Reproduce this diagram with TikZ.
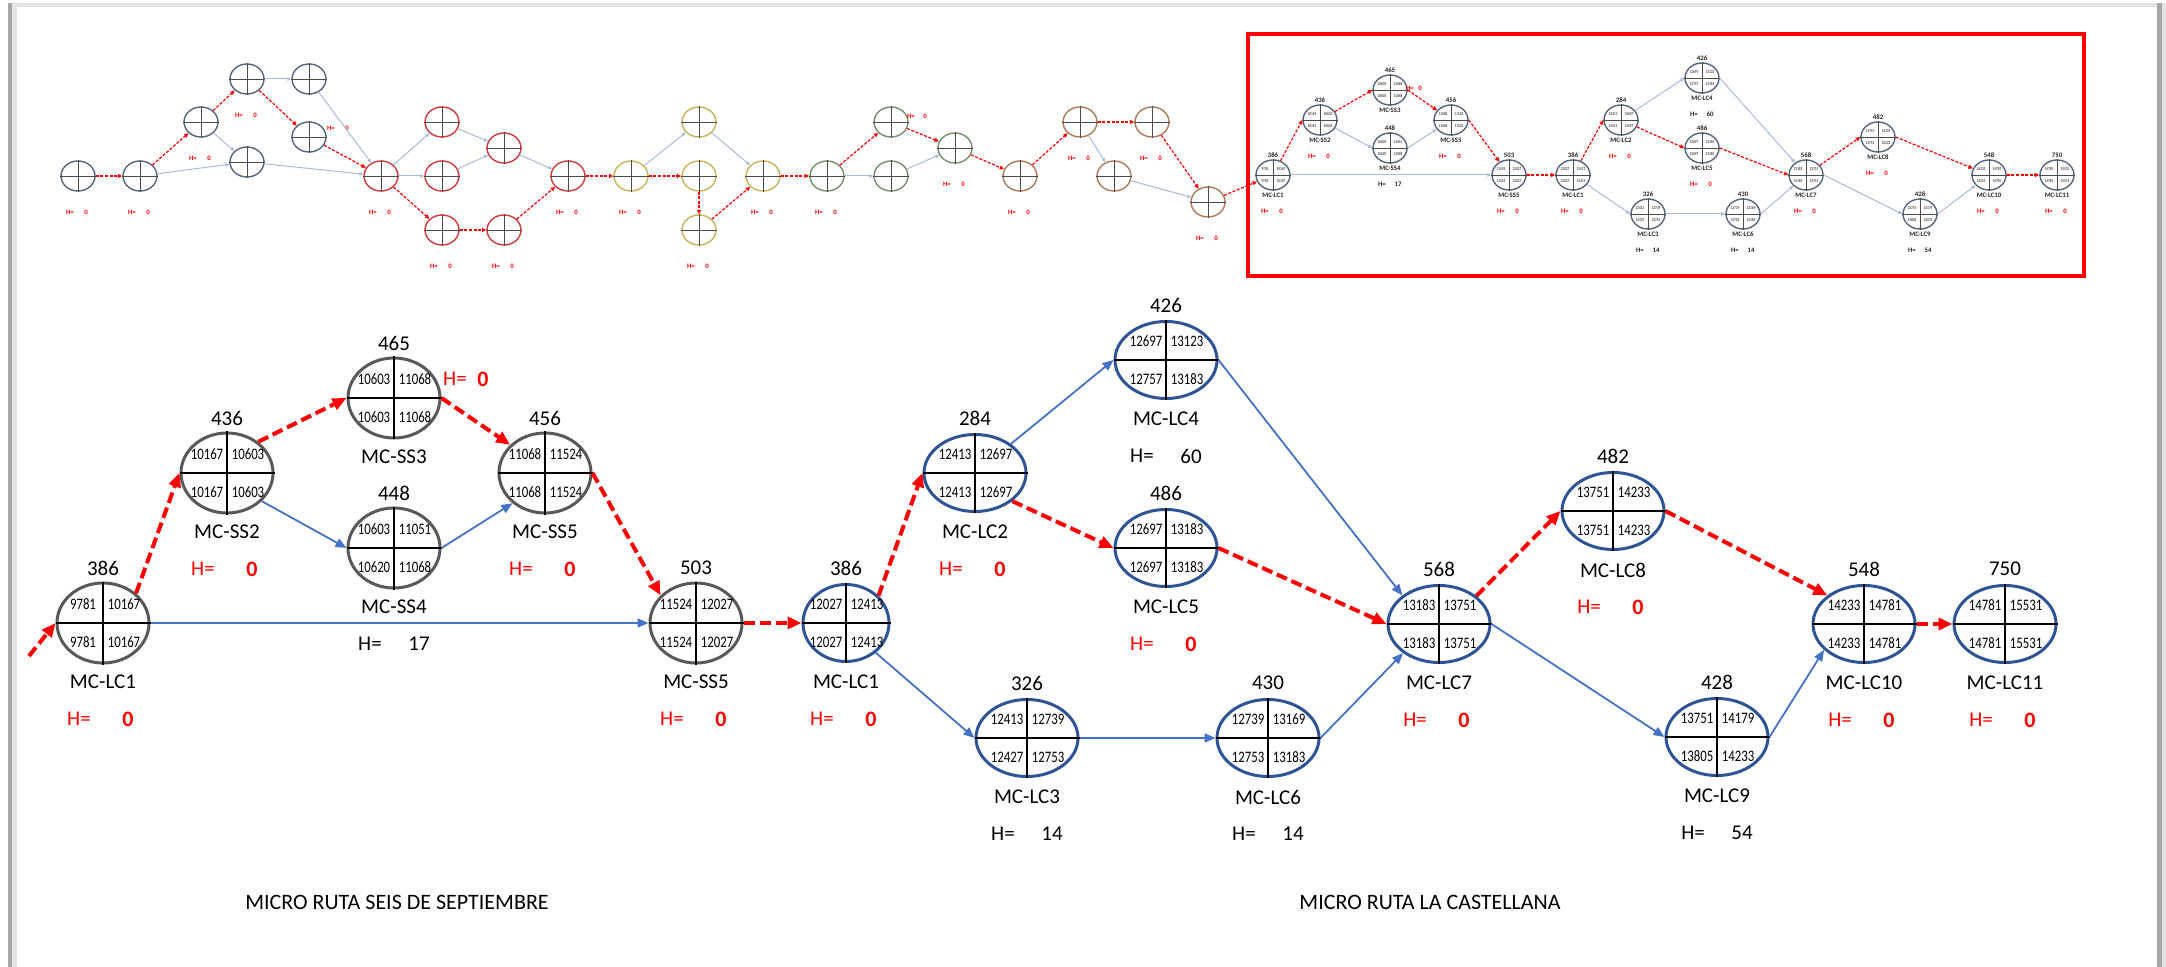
\documentclass[tikz,border=0pt]{standalone}
\usepackage{fontspec}
\setmainfont{Carlito}
\newfontfamily\quadfont[FakeStretch=0.8]{Carlito}
\usetikzlibrary{shapes.geometric,arrows.meta,calc}

\definecolor{nodegray}{HTML}{595959}
\definecolor{nodeblue}{HTML}{2F5496}
\definecolor{linkblue}{HTML}{4472C4}
\definecolor{critred}{HTML}{FF0000}
\definecolor{framedark}{HTML}{A6A6A6}
\definecolor{framelight}{HTML}{E4E4E4}
\definecolor{thinblue}{HTML}{A9BCDD}
\definecolor{tslate}{HTML}{56657F}
\definecolor{tred}{HTML}{D23A3A}
\definecolor{tyellow}{HTML}{C8B457}
\definecolor{tgreen}{HTML}{72906A}
\definecolor{tbrown}{HTML}{B07A5A}

\tikzset{
  graynode/.style={ellipse, draw=nodegray, line width=1.5pt, minimum width=46pt, minimum height=40pt, inner sep=0pt},
  bluenode/.style={ellipse, draw=nodeblue, line width=1.5pt, minimum width=51pt, minimum height=38.5pt, inner sep=0pt},
  slimblue/.style={bluenode, minimum width=43pt},
  crossline/.style={black, line width=0.8pt},
  quadtxt/.style={inner sep=0pt, font=\quadfont\fontsize{8}{9}\selectfont},
  numtxt/.style={inner sep=0pt, font=\fontsize{10.5}{12}\selectfont},
  nametxt/.style={inner sep=0pt, font=\fontsize{10.5}{12}\selectfont},
  hkeyred/.style={inner sep=0pt, text=critred, font=\fontsize{10.5}{12}\selectfont},
  hvalred/.style={inner sep=0pt, text=critred, font=\fontsize{11}{12}\selectfont\bfseries},
  hkeyblk/.style={inner sep=0pt, font=\fontsize{10.5}{12}\selectfont},
  hvalblk/.style={inner sep=0pt, font=\fontsize{10.5}{12}\selectfont},
  captxt/.style={inner sep=0pt, font=\fontsize{11}{13}\selectfont},
  critlink/.style={draw=critred, line width=2pt, dash pattern=on 5.5pt off 2.5pt,
    -{Triangle[length=7pt,width=6pt]}},
  normlink/.style={draw=linkblue, line width=0.9pt, -{Triangle[length=5.5pt,width=4.5pt]}},
  % miniature network
  mininode/.style={ellipse, line width=0.7pt, minimum width=17pt, minimum height=15pt, inner sep=0pt},
  minicross/.style={black!70, line width=0.4pt},
  miniquad/.style={inner sep=0pt, text=black!70, font=\quadfont\bfseries\fontsize{2.2}{2.6}\selectfont},
  minitxt/.style={inner sep=0pt, text=black!85, font=\bfseries\fontsize{3.4}{4}\selectfont},
  minired/.style={inner sep=0pt, text=critred, font=\bfseries\fontsize{3.4}{4}\selectfont},
  minicrit/.style={draw=critred, line width=0.6pt, dash pattern=on 1.5pt off 0.8pt,
    -{Triangle[length=2.2pt,width=2pt]}},
  mininorm/.style={draw=thinblue, line width=0.5pt, -{Triangle[length=2pt,width=1.8pt]}},
}

% activity node: name, position, style, four quadrant values, number above
\newcommand{\pertnode}[8]{%
  \node[#3] (#1) at (#2) {};
  \draw[crossline] (#1.north) -- (#1.south);
  \draw[crossline] (#1.west) -- (#1.east);
  \node[quadtxt] (#1-tl) at ([shift={(-20,-19)}]#1.center) {#4};
  \node[quadtxt] (#1-tr) at ([shift={(21,-19)}]#1.center) {#5};
  \node[quadtxt] (#1-bl) at ([shift={(-20,19)}]#1.center) {#6};
  \node[quadtxt] (#1-br) at ([shift={(21,19)}]#1.center) {#7};
  \node[numtxt] (#1-num) at ([shift={(0,-55)}]#1.center) {#8};
}
\newcommand{\pertname}[2]{\node[nametxt] (#1-lab) at ([shift={(0,59)}]#1.center) {#2};}
\newcommand{\hcrit}[1]{%
  \node[hkeyred] (#1-hk) at ([shift={(-24,96)}]#1.center) {H=};
  \node[hvalred] (#1-hv) at ([shift={(25,96)}]#1.center) {0};}
\newcommand{\hslack}[2]{%
  \node[hkeyblk] (#1-hk) at ([shift={(-24,96)}]#1.center) {H=};
  \node[hvalblk] (#1-hv) at ([shift={(25,96)}]#1.center) {#2};}

% miniature node: name, position, colour, four quadrant values, number above
\newcommand{\minipert}[8]{%
  \node[mininode, draw=#3] (#1) at (#2) {};
  \draw[minicross] (#1.north) -- (#1.south);
  \draw[minicross] (#1.west) -- (#1.east);
  \node[miniquad] (#1-tl) at ([shift={(-8,-6)}]#1.center) {#4};
  \node[miniquad] (#1-tr) at ([shift={(8,-6)}]#1.center) {#5};
  \node[miniquad] (#1-bl) at ([shift={(-8,6)}]#1.center) {#6};
  \node[miniquad] (#1-br) at ([shift={(8,6)}]#1.center) {#7};
  \node[minitxt] (#1-num) at ([shift={(0,-20)}]#1.center) {#8};
}
\newcommand{\mininame}[2]{\node[minitxt] (#1-lab) at ([shift={(0,20)}]#1.center) {#2};}
\newcommand{\minihcrit}[1]{%
  \node[minired] (#1-hk) at ([shift={(-8,36)}]#1.center) {H=};
  \node[minired] (#1-hv) at ([shift={(8,36)}]#1.center) {0};}
\newcommand{\minihslack}[2]{%
  \node[minitxt] (#1-hk) at ([shift={(-8,36)}]#1.center) {H=};
  \node[minitxt] (#1-hv) at ([shift={(8,36)}]#1.center) {#2};}

\begin{document}
\begin{tikzpicture}[x=0.5pt,y=-0.5pt]
\useasboundingbox (0,0) rectangle (2166,967);
\fill[white] (0,0) rectangle (2166,967);

% page edges
\fill[framelight] (8,3) rectangle (2157,7);
\fill[framedark] (8,3) rectangle (12,967);
\fill[framelight] (12,7) rectangle (17,967);
\fill[framedark] (2157,3) rectangle (2162,967);
\fill[framelight] (2162,3) rectangle (2166,967);

% ---------------- miniature of the whole network ----------------
\minipert{t1}{78,176}{tslate}{}{}{}{}{}
\minipert{t2}{140,176}{tslate}{}{}{}{}{}
\minipert{t3}{201,122}{tslate}{}{}{}{}{}
\minipert{t4}{247,79}{tslate}{}{}{}{}{}
\minipert{t5}{309,79}{tslate}{}{}{}{}{}
\minipert{t6}{309,137}{tslate}{}{}{}{}{}
\minipert{t7}{247,162}{tslate}{}{}{}{}{}
\minipert{t8}{381,176}{tred}{}{}{}{}{}
\minipert{t9}{442,122}{tred}{}{}{}{}{}
\minipert{t10}{504,148}{tred}{}{}{}{}{}
\minipert{t11}{442,176}{tred}{}{}{}{}{}
\minipert{t12}{442,230}{tred}{}{}{}{}{}
\minipert{t13}{504,230}{tred}{}{}{}{}{}
\minipert{t14}{568,176}{tred}{}{}{}{}{}
\minipert{t15}{631,176}{tyellow}{}{}{}{}{}
\minipert{t16}{699,122}{tyellow}{}{}{}{}{}
\minipert{t17}{699,176}{tyellow}{}{}{}{}{}
\minipert{t18}{699,230}{tyellow}{}{}{}{}{}
\minipert{t19}{763,176}{tyellow}{}{}{}{}{}
\minipert{t20}{827,176}{tgreen}{}{}{}{}{}
\minipert{t21}{891,122}{tgreen}{}{}{}{}{}
\minipert{t22}{891,176}{tgreen}{}{}{}{}{}
\minipert{t23}{955,148}{tgreen}{}{}{}{}{}
\minipert{t24}{1020,176}{tbrown}{}{}{}{}{}
\minipert{t25}{1080,122}{tbrown}{}{}{}{}{}
\minipert{t26}{1152,122}{tbrown}{}{}{}{}{}
\minipert{t27}{1114,176}{tbrown}{}{}{}{}{}
\minipert{t28}{1208,202}{tbrown}{}{}{}{}{}

% slack marks of the critical activities
\minihcrit{t1}\minihcrit{t2}\minihcrit{t3}\minihcrit{t4}
\node[minired] (t6-hk) at (331,128) {H=};
\node[minired] (t6-hv) at (347,128) {0};
\minihcrit{t8}\minihcrit{t12}\minihcrit{t13}\minihcrit{t14}
\minihcrit{t15}\minihcrit{t18}\minihcrit{t19}\minihcrit{t20}
\node[minired] (t21-hk) at (911,116) {H=};
\node[minired] (t21-hv) at (925,116) {0};
\minihcrit{t23}\minihcrit{t24}\minihcrit{t25}\minihcrit{t26}\minihcrit{t28}

\minipert{r1}{1273,175}{tslate}{9781}{10167}{9781}{10167}{386}
\minipert{r2}{1320,120}{tslate}{10167}{10603}{10167}{10603}{436}
\minipert{r3}{1390,90}{tslate}{10603}{11068}{10603}{11068}{465}
\minipert{r4}{1390,148}{tslate}{10603}{11051}{10620}{11068}{448}
\minipert{r5}{1451,120}{tslate}{11068}{11524}{11068}{11524}{456}
\minipert{r6}{1509,175}{tslate}{11524}{12027}{11524}{12027}{503}
\minipert{r7}{1573,175}{tslate}{12027}{12413}{12027}{12413}{386}
\minipert{r8}{1621,120}{tslate}{12413}{12697}{12413}{12697}{284}
\minipert{r9}{1702,78}{tslate}{12697}{13123}{12757}{13183}{426}
\minipert{r10}{1702,148}{tslate}{12697}{13183}{12697}{13183}{486}
\minipert{r11}{1648,214}{tslate}{12413}{12739}{12427}{12753}{326}
\minipert{r12}{1743,214}{tslate}{12739}{13169}{12753}{13183}{430}
\minipert{r13}{1806,175}{tslate}{13183}{13751}{13183}{13751}{568}
\minipert{r14}{1878,137}{tslate}{13751}{14233}{13751}{14233}{482}
\minipert{r15}{1920,214}{tslate}{13751}{14179}{13805}{14233}{428}
\minipert{r16}{1989,175}{tslate}{14233}{14781}{14233}{14781}{548}
\minipert{r17}{2057,175}{tslate}{14781}{15531}{14781}{15531}{750}

\mininame{r1}{MC-LC1}\minihcrit{r1}
\mininame{r2}{MC-SS2}\minihcrit{r2}
\mininame{r3}{MC-SS3}
\node[minired] (r3-hk) at (1410,88) {H=};
\node[minired] (r3-hv) at (1420,88) {0};
\mininame{r4}{MC-SS4}\minihslack{r4}{17}
\mininame{r5}{MC-SS5}\minihcrit{r5}
\mininame{r6}{MC-SS5}\minihcrit{r6}
\mininame{r7}{MC-LC1}\minihcrit{r7}
\mininame{r8}{MC-LC2}\minihcrit{r8}
\mininame{r9}{MC-LC4}\minihslack{r9}{60}
\mininame{r10}{MC-LC5}\minihcrit{r10}
\mininame{r11}{MC-LC3}\minihslack{r11}{14}
\mininame{r12}{MC-LC6}\minihslack{r12}{14}
\mininame{r13}{MC-LC7}\minihcrit{r13}
\mininame{r14}{MC-LC8}\minihcrit{r14}
\mininame{r15}{MC-LC9}\minihslack{r15}{54}
\mininame{r16}{MC-LC10}\minihcrit{r16}
\mininame{r17}{MC-LC11}\minihcrit{r17}

% miniature connectors
\draw[minicrit] (t1) -- (t2);
\draw[minicrit] (t2) -- (t3);
\draw[minicrit] (t3) -- (t4);
\draw[mininorm] (t4) -- (t5);
\draw[minicrit] (t4) -- (t6);
\draw[mininorm] (t3) -- (t7);
\draw[mininorm] (t2) -- (t7);
\draw[mininorm] (t5) -- (t8);
\draw[minicrit] (t6) -- (t8);
\draw[mininorm] (t7) -- (t8);
\draw[mininorm] (t8) -- (t9);
\draw[mininorm] (t8) -- (t11);
\draw[minicrit] (t8) -- (t12);
\draw[mininorm] (t9) -- (t10);
\draw[mininorm] (t11) -- (t10);
\draw[minicrit] (t12) -- (t13);
\draw[mininorm] (t10) -- (t14);
\draw[minicrit] (t13) -- (t14);
\draw[minicrit] (t14) -- (t15);
\draw[mininorm] (t15) -- (t16);
\draw[minicrit] (t15) -- (t17);
\draw[mininorm] (t16) -- (t19);
\draw[minicrit] (t17) -- (t18);
\draw[minicrit] (t18) -- (t19);
\draw[minicrit] (t19) -- (t20);
\draw[minicrit] (t20) -- (t21);
\draw[mininorm] (t20) -- (t22);
\draw[minicrit] (t21) -- (t23);
\draw[mininorm] (t22) -- (t23);
\draw[minicrit] (t23) -- (t24);
\draw[minicrit] (t24) -- (t25);
\draw[minicrit] (t25) -- (t26);
\draw[mininorm] (t25) -- (t27);
\draw[minicrit] (t26) -- (t28);
\draw[mininorm] (t27) -- (t28);
\draw[minicrit] (t28) -- (r1);
\draw[minicrit] (r1) -- (r2.west);
\draw[minicrit] (r2) -- (r3.west);
\draw[minicrit] (r3.east) -- (r5);
\draw[minicrit] (r5.east) -- (r6);
\draw[mininorm] (r2) -- (r4.west);
\draw[mininorm] (r4.east) -- (r5);
\draw[mininorm] (r1.east) -- (r6.west);
\draw[minicrit] (r6.east) -- (r7.west);
\draw[minicrit] (r7) -- (r8.west);
\draw[mininorm] (r8) -- (r9.west);
\draw[minicrit] (r8) -- (r10.west);
\draw[mininorm] (r9.east) -- (r13);
\draw[minicrit] (r10.east) -- (r13.west);
\draw[mininorm] (r7) -- (r11.west);
\draw[mininorm] (r11.east) -- (r12.west);
\draw[mininorm] (r12.east) -- (r13);
\draw[minicrit] (r13) -- (r14.west);
\draw[mininorm] (r13.east) -- (r15.west);
\draw[minicrit] (r14.east) -- (r16);
\draw[mininorm] (r15.east) -- (r16);
\draw[minicrit] (r16.east) -- (r17.west);

% highlight frame round the enlarged part
\draw[critred, line width=2pt] (1248,34) rectangle (2084,276);

% ---------------- enlarged network ----------------
\pertnode{lc1a}{103,623}{graynode}{9781}{10167}{9781}{10167}{386}
\pertnode{ss2}{227,473}{graynode}{10167}{10603}{10167}{10603}{436}
\pertnode{ss3}{394,398}{graynode}{10603}{11068}{10603}{11068}{465}
\pertnode{ss4}{394,548}{graynode}{10603}{11051}{10620}{11068}{448}
\pertnode{ss5a}{545,473}{graynode}{11068}{11524}{11068}{11524}{456}
\pertnode{ss5b}{696,623}{graynode}{11524}{12027}{11524}{12027}{503}
\pertnode{lc1b}{846,623}{slimblue}{12027}{12413}{12027}{12413}{386}
\pertnode{lc2}{975,473}{bluenode}{12413}{12697}{12413}{12697}{284}
\pertnode{lc4}{1166,360}{bluenode}{12697}{13123}{12757}{13183}{426}
\pertnode{lc5}{1166,548}{bluenode}{12697}{13183}{12697}{13183}{486}
\pertnode{lc3}{1027,738}{bluenode}{12413}{12739}{12427}{12753}{326}
\pertnode{lc6}{1268,738}{bluenode}{12739}{13169}{12753}{13183}{430}
\pertnode{lc7}{1439,624}{bluenode}{13183}{13751}{13183}{13751}{568}
\pertnode{lc8}{1613,511}{bluenode}{13751}{14233}{13751}{14233}{482}
\pertnode{lc9}{1717,737}{bluenode}{13751}{14179}{13805}{14233}{428}
\pertnode{lc10}{1864,624}{bluenode}{14233}{14781}{14233}{14781}{548}
\pertnode{lc11}{2005,624}{bluenode}{14781}{15531}{14781}{15531}{750}

\pertname{lc1a}{MC-LC1}\hcrit{lc1a}
\pertname{ss2}{MC-SS2}\hcrit{ss2}
\pertname{ss3}{MC-SS3}
\node[hkeyred] (ss3-hk) at (455,379) {H=};
\node[hvalred] (ss3-hv) at (483,379) {0};
\pertname{ss4}{MC-SS4}\hslack{ss4}{17}
\pertname{ss5a}{MC-SS5}\hcrit{ss5a}
\pertname{ss5b}{MC-SS5}\hcrit{ss5b}
\pertname{lc1b}{MC-LC1}\hcrit{lc1b}
\pertname{lc2}{MC-LC2}\hcrit{lc2}
\pertname{lc4}{MC-LC4}\hslack{lc4}{60}
\pertname{lc5}{MC-LC5}\hcrit{lc5}
\pertname{lc3}{MC-LC3}\hslack{lc3}{14}
\pertname{lc6}{MC-LC6}\hslack{lc6}{14}
\pertname{lc7}{MC-LC7}\hcrit{lc7}
\pertname{lc8}{MC-LC8}\hcrit{lc8}
\pertname{lc9}{MC-LC9}\hslack{lc9}{54}
\pertname{lc10}{MC-LC10}\hcrit{lc10}
\pertname{lc11}{MC-LC11}\hcrit{lc11}

% connectors
\coordinate (entry) at (29,656);
\draw[critlink] (entry) -- (lc1a.west);
\draw[critlink] (lc1a.42) -- (ss2.west);
\draw[critlink] (ss2.45) -- (ss3.west);
\draw[critlink] (ss3.east) -- (ss5a.141);
\draw[critlink] (ss5a.east) -- (ss5b.142);
\draw[normlink] (ss2.-39) -- (ss4.west);
\draw[normlink] (ss4.east) -- (ss5a.223);
\draw[normlink] (lc1a.east) -- (ss5b.west);
\draw[critlink] (ss5b.east) -- (lc1b.west);
\draw[critlink] (lc1b.40) -- (lc2.west);
\draw[normlink] (lc2.39) -- (lc4.west);
\draw[critlink] (lc2.-37) -- (lc5.west);
\draw[normlink] (lc4.east) -- (lc7.142);
\draw[critlink] (lc5.east) -- (lc7.west);
\draw[normlink] (lc1b.-45) -- (lc3.west);
\draw[normlink] (lc3.east) -- (lc6.west);
\draw[normlink] (lc6.east) -- (lc7.219);
\draw[critlink] (lc7.37) -- (lc8.west);
\draw[normlink] (lc7.east) -- (lc9.west);
\draw[critlink] (lc8.east) -- (lc10.142);
\draw[normlink] (lc9.east) -- (lc10.213);
\draw[critlink] (lc10.east) -- (lc11.west);

% route captions
\node[captxt] (cap-ss) at (397,902) {MICRO RUTA SEIS DE SEPTIEMBRE};
\node[captxt] (cap-lc) at (1430,902) {MICRO RUTA LA CASTELLANA};
\end{tikzpicture}
\end{document}
